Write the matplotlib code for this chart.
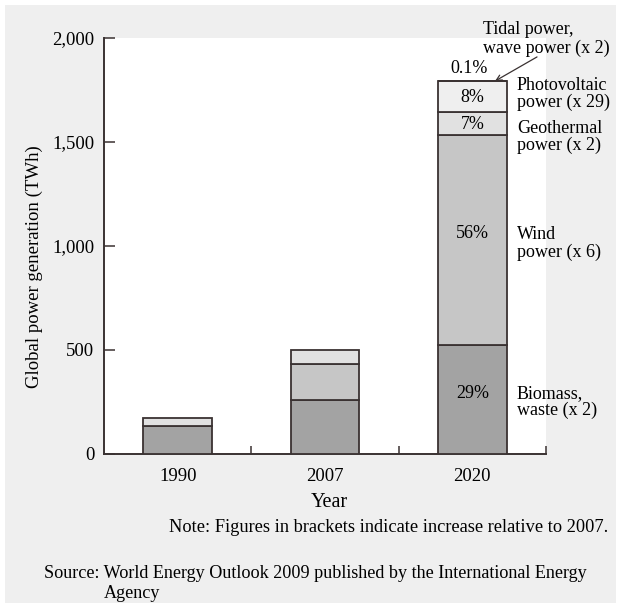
import matplotlib
matplotlib.use("Agg")
import matplotlib.pyplot as plt
from matplotlib.patches import Rectangle
import numpy as np

years = ["1990", "2007", "2020"]
biomass = [135, 258, 522]
wind = [0, 173, 1010]
geothermal = [40, 67, 114]
photovoltaic = [0, 0, 145]
tidal = [0, 0, 2]

seg_names = ["Biomass", "Wind", "Geothermal", "Photovoltaic", "Tidal"]
seg_values = [biomass, wind, geothermal, photovoltaic, tidal]
seg_colors = ["#a3a3a3", "#c6c6c6", "#e1e1e1", "#efefef", "#efefef"]
pct_labels = ["29%", "56%", "7%", "8%", ""]
side_labels = ["Biomass,\nwaste (x 2)", "Wind\npower (x 6)", "Geothermal\npower (x 2)",
               "Photovoltaic\npower (x 29)", ""]
yticks = [0, 500, 1000, 1500, 2000]
ytick_labels = ["0", "500", "1,000", "1,500", "2,000"]

plt.rcParams['font.family'] = ['Liberation Serif', 'DejaVu Serif']
edge = "#3a3232"

fig = plt.figure(figsize=(6.21, 6.03), dpi=100)
fig.patch.set_facecolor("white")
bg = Rectangle((5/621, 0), 611/621, 598/603, transform=fig.transFigure,
               facecolor="#efefef", edgecolor="none", zorder=-5)
fig.add_artist(bg)

ax = fig.add_axes([104/621, 1-454/603, 442/621, 416/603])
ax.set_facecolor("white")
x = np.arange(len(years))
bottom = np.zeros(len(years))
width = 0.468
for name, vals, col in zip(seg_names, seg_values, seg_colors):
    vals = np.array(vals, dtype=float)
    mask = vals > 0
    ax.bar(x[mask], vals[mask], width=width, bottom=bottom[mask], color=col,
           edgecolor=edge, linewidth=1.3, zorder=3)
    bottom += vals

fs = 13
# percentage labels inside the 2020 bar
pct_y = {"29%": 293, "56%": 1058, "7%": 1582, "8%": 1712}
for pl in pct_labels:
    if pl:
        ax.text(x[2], pct_y[pl], pl, ha="center", va="center", fontsize=fs, zorder=4)
side_y = [250, 1012, 1526, 1733]
lx = 2.303
for sl, yy in zip(side_labels[:4], side_y):
    ax.text(lx, yy, sl, ha="left", va="center", fontsize=fs, linespacing=0.98, clip_on=False)
total2020 = sum(v[2] for v in seg_values)
ax.text(1.977, 1851, "0.1%", ha="center", va="center", fontsize=fs, clip_on=False)
ax.text(2.073, 1995, "Tidal power,\nwave power (x 2)", ha="left", va="center",
        fontsize=fs, linespacing=1.15, clip_on=False)
ax.annotate("", xy=(2.154, total2020), xytext=(2.439, 1909), annotation_clip=False,
            arrowprops=dict(arrowstyle="->", color=edge, lw=0.9, shrinkA=0, shrinkB=0))

ax.set_xlim(-0.5, 2.5)
ax.set_ylim(0, 2000)
ax.set_xticks(x)
ax.set_xticklabels(years, fontsize=13.5)
ax.set_xticks([0.5, 1.5, 2.5], minor=True)
ax.tick_params(axis="x", which="major", length=0, pad=10)
ax.tick_params(axis="x", which="minor", direction="in", length=5.5, width=1.1, color=edge)
ax.set_yticks(yticks)
ax.set_yticklabels(ytick_labels, fontsize=13.5)
ax.tick_params(axis="y", direction="in", length=8, width=1.1, color=edge, pad=7)
for s in ["top", "right"]:
    ax.spines[s].set_visible(False)
for s in ["left", "bottom"]:
    ax.spines[s].set_color(edge)
    ax.spines[s].set_linewidth(1.4)
ax.set_xlabel("Year", fontsize=14.5)
ax.xaxis.set_label_coords(0.51, -0.093)
ax.set_ylabel("Global power generation (TWh)", fontsize=13.5)
ax.yaxis.set_label_coords(-0.138, 0.45)

fig.text(608/621, 1-527/603, "Note: Figures in brackets indicate increase relative to 2007.",
         ha="right", va="center", fontsize=13.2)
fig.text(44/621, 1-573/603, "Source: World Energy Outlook 2009 published by the International Energy",
         ha="left", va="center", fontsize=13.1)
fig.text(104/621, 1-594/603, "Agency", ha="left", va="center", fontsize=13.1)

fig.savefig("out.png", dpi=100, facecolor=fig.get_facecolor())
